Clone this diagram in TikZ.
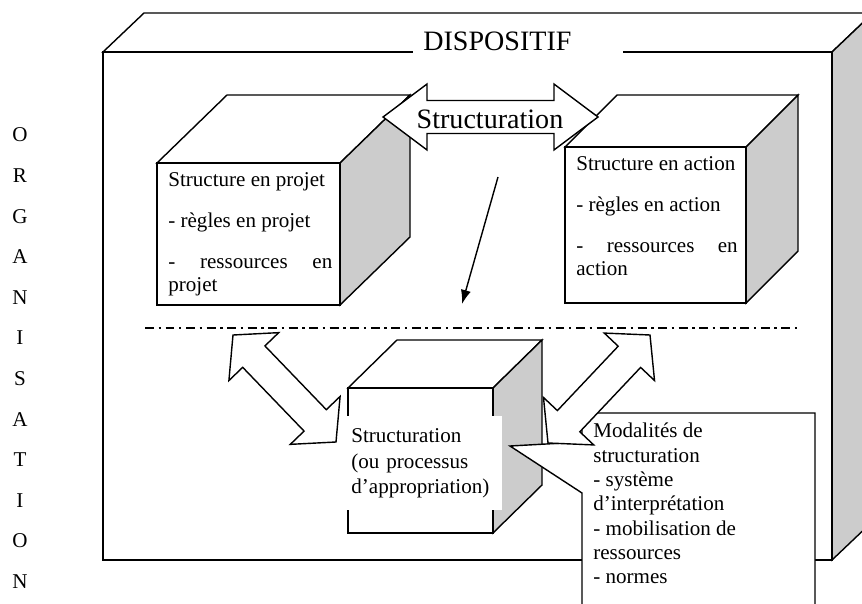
\documentclass[tikz,border=0pt]{standalone}
\usepackage{fontspec}
\setmainfont{Liberation Serif}
\usepackage{tikz}
\usetikzlibrary{arrows.meta,calc}
\definecolor{sidegray}{RGB}{204,204,204}
\tolerance=9999
\hyphenpenalty=10000
\newcommand{\txtfont}{\fontsize{12}{13.1}\selectfont}
\newcommand{\titlefont}{\fontsize{16}{19}\selectfont}
\tikzset{
        cubeface/.style = {draw, fill=white, line width=0.8pt},
        cubeside/.style = {draw, fill=sidegray, line width=0.8pt},
        blockarrow/.style = {draw, fill=white, line width=0.8pt},
        thinarrow/.style = {draw, -{Latex[length=8pt,width=5.8pt]}, line width=0.8pt},
        dashdot/.style = {draw, line width=0.8pt,
            dash pattern=on 5.1pt off 2.6pt on 1.4pt off 2.6pt},
        cubetext/.style = {anchor=north west, inner sep=0pt, align=justify, font=\txtfont},
        plaintext/.style = {anchor=north west, inner sep=0pt, align=left, font=\txtfont},
        orgletter/.style = {inner sep=0pt, font=\txtfont},
    }
% double block arrow: ends, head length, head half width, shaft half width
\newcommand{\dblarrow}[5]{%
  \path ($(#1)!#3!(#2)$) coordinate (da) ($(#2)!#3!(#1)$) coordinate (db);
  \draw[blockarrow] (#1) -- ($(da)!#4!90:(#2)$) -- ($(da)!#5!90:(#2)$)
    -- ($(db)!#5!-90:(#1)$) -- ($(db)!#4!-90:(#1)$) -- (#2)
    -- ($(db)!#4!90:(#1)$) -- ($(db)!#5!90:(#1)$)
    -- ($(da)!#5!-90:(#2)$) -- ($(da)!#4!-90:(#2)$) -- cycle;
}

\begin{document}
\begin{tikzpicture}[x=0.57pt,y=0.57pt,yscale=-1,xscale=1]
\useasboundingbox (0,0) rectangle (862,603);

%Shape: Box DISPOSITIF
\draw[cubeface] (103,52) -- (144,13) -- (873,13) -- (832,52) -- cycle;
\draw[cubeside] (832,52) -- (873,13) -- (873,521) -- (832,560) -- cycle;
\draw[cubeface] (103,52) rectangle (832,560);
% Text Node
\node[fill=white, anchor=base west, inner xsep=5.7pt, text width=108.3pt, font=\titlefont] (disp) at (413,50) {DISPOSITIF};

%Shape: Cube projet
\draw[cubeface] (157,163) -- (227,95) -- (410,95) -- (340,163) -- cycle;
\draw[cubeside] (340,163) -- (410,95) -- (410,237) -- (340,305) -- cycle;
\draw[cubeface] (157,163) rectangle (340,305);
\node[cubetext, text width=93.5pt] (projtxt) at (168,172)
  {Structure en projet\par\vspace{10.3pt}- règles en projet\par\vspace{10.3pt}- ressources en projet};

%Shape: Cube action
\draw[cubeface] (565,147) -- (617,95) -- (798,95) -- (746,147) -- cycle;
\draw[cubeside] (746,147) -- (798,95) -- (798,251) -- (746,303) -- cycle;
\draw[cubeface] (565,147) rectangle (746,303);
\node[cubetext, text width=92pt] (actiontxt) at (576,156)
  {Structure en action\par\vspace{10.3pt}- règles en action\par\vspace{10.3pt}- ressources en action};

%Double Arrow Structuration
\coordinate (stA) at (383,117);
\coordinate (stB) at (598,117);
\dblarrow{stA}{stB}{25.1pt}{18.8pt}{9.4pt}
\node[inner sep=0pt, font=\titlefont] (structxt) at (490,119) {Structuration};

%Straight Lines with arrow
\coordinate (arrfrom) at (498,177);
\coordinate (arrto) at (462,304);
\draw[thinarrow] (arrfrom) -- (arrto);

%Dash dot line
\coordinate (dashL) at (145,328);
\coordinate (dashR) at (800,328);
\draw[dashdot] (dashL) -- (dashR);

%Shape: Cube structuration
\draw[cubeface] (348,388) -- (397,340) -- (542,340) -- (493,388) -- cycle;
\draw[cubeside] (493,388) -- (542,340) -- (542,485) -- (493,533) -- cycle;
\draw[cubeface] (348,388) rectangle (493,533);
\node[fill=white, anchor=north west, inner xsep=4pt, inner ysep=0pt, text width=82pt,
  minimum height=53.6pt, align=left, font=\fontsize{12}{14.5}\selectfont] (proctxt) at (344,416)
  {Structuration\\(ou processus\\d’appropriation)};

%Double Arrow left
\coordinate (lftA) at (233,335);
\coordinate (lftB) at (336,442);
\dblarrow{lftA}{lftB}{17.1pt}{19.7pt}{8.8pt}

%Callout
\draw[cubeface] (582,413) -- (815,413) -- (815,615) -- (582,615) -- (582,493)
  -- (510,446) -- (582,442) -- cycle;

%Double Arrow right
\coordinate (rgtA) at (548,443);
\coordinate (rgtB) at (650,335);
\dblarrow{rgtA}{rgtB}{17.1pt}{19.7pt}{8.8pt}

% Text Node
\node[plaintext, font=\fontsize{12}{13.85}\selectfont] (modtxt) at (593,423)
  {Modalités de\\structuration\\- système\\d’interprétation\\- mobilisation de\\ressources\\- normes};

% Text Node ORGANISATION
\foreach \l [count=\i from 0] in {O,R,G,A,N,I,S,A,T,I,O,N}
  \node[orgletter] (org\i) at (20,{135+40.6*\i}) {\l};

\end{tikzpicture}
\end{document}
